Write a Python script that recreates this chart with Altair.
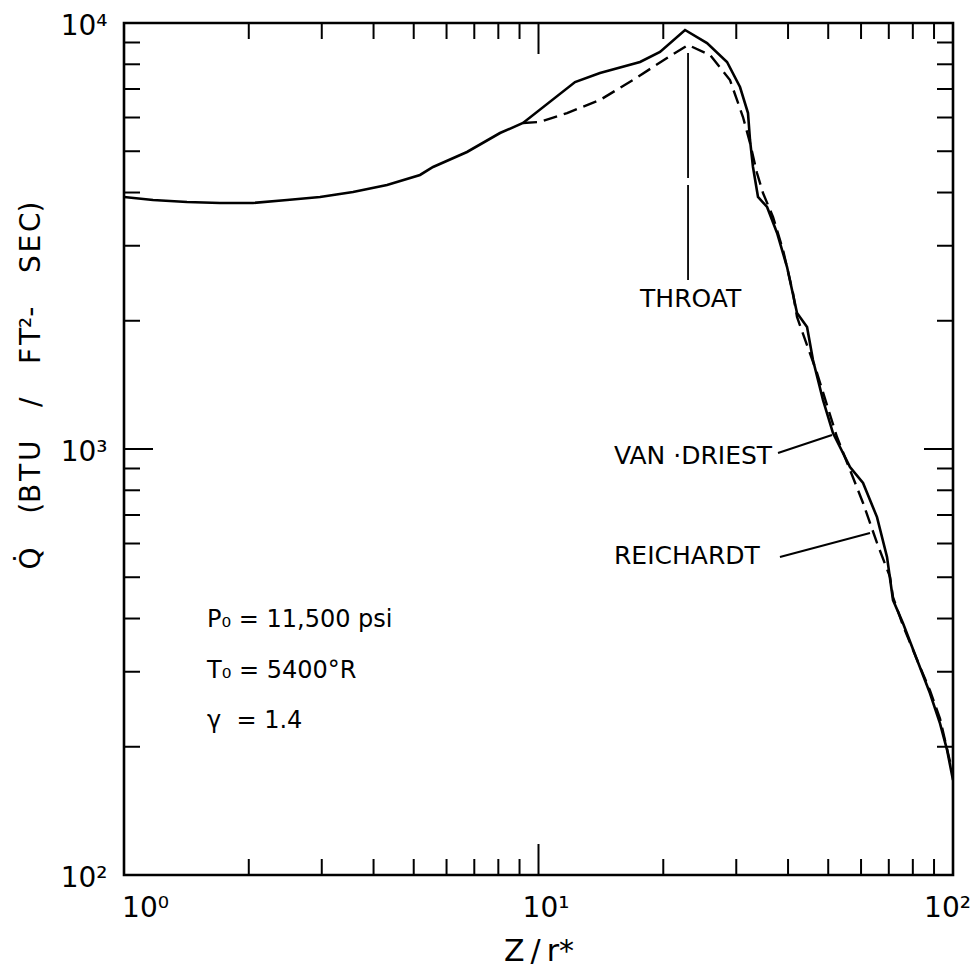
import altair as alt
import pandas as pd

# ---- data ----
# Van Driest (solid)
vd_x = [1.0, 1.175, 1.419, 1.704, 2.047, 2.474, 2.971, 3.568, 4.31, 5.178, 5.567, 6.722, 8.075, 9.176,
        12.25, 14.07, 17.58, 19.64, 22.57, 25.5, 28.5, 30.63, 32.02, 32.38, 32.92, 33.85, 35.6, 37.63,
        39.78, 42.04, 44.45, 45.94, 48.58, 51.34, 56.43, 60.67, 65.56, 69.31, 71.66, 75.75, 81.89,
        87.99, 93.03, 96.71, 100.0]
vd_y = [3905, 3842, 3800, 3780, 3780, 3842, 3905, 4012, 4166, 4398, 4592, 4980, 5517, 5825,
        7268, 7632, 8099, 8552, 9629, 8975, 8099, 7075, 6147, 5313, 4592, 3905, 3699, 3214,
        2674, 2085, 1933, 1618, 1303, 1090, 907, 832, 692, 558, 442, 390, 320,
        267, 227, 197, 167]
# Reichardt (dashed)
re_x = [9.176, 10.08, 11.72, 14.07, 16.9, 20.42, 22.95, 25.93, 28.97, 31.14, 32.38, 33.66, 34.8,
        36.79, 38.9, 41.11, 42.04, 46.97, 52.49, 56.43, 60.67, 65.56, 70.47, 71.66, 75.75, 81.89,
        87.99, 93.03, 100.0]
re_y = [5825, 5856, 6147, 6596, 7348, 8276, 8878, 8413, 7348, 6016, 5227, 4445, 3990,
        3505, 2932, 2323, 2041, 1508, 1067, 893, 747, 602, 501, 449, 385, 320,
        271, 233, 172]

x_major_labels = [1, 10, 100]
y_major_labels = [100, 1000, 10000]
x_minor_ticks = [2, 3, 4, 5, 6, 7, 8, 9, 20, 30, 40, 50, 60, 70, 80, 90]
x_major_ticks = [10]
y_minor_ticks = [200, 300, 400, 500, 600, 700, 800, 900, 2000, 3000, 4000, 5000, 6000, 7000, 8000, 9000]
y_major_ticks = [1000]

ann_labels = ["THROAT", "VAN\u00a0\u00b7DRIEST", "REICHARDT"]
ann_x = [17.58, 15.21, 15.21]
ann_y = [2249, 963, 561]

throat_x = [22.95, 22.95]
throat_y = [8506, 2493]
vd_lead_x = [37.83, 51.06]
vd_lead_y = [979, 1079]
re_lead_x = [38.24, 63.07]
re_lead_y = [558, 635]

param_labels = ["P\u2080 = 11,500 psi", "T\u2080 = 5400\u00b0R", "\u03b3\u00a0\u00a0= 1.4"]
param_x = [1.586, 1.586, 1.586]
param_y = [382, 290, 221]

W, H = 829, 852
FONT = "DejaVu Sans"

xs = alt.Scale(type="log", domain=[1, 100], nice=False)
ys = alt.Scale(type="log", domain=[100, 10000], nice=False)

GAP = "\u2003\u2009"
y_title = ("Q\u0307" + GAP + "(B\u200aT\u200aU" + GAP + "/" + GAP + "F\u200aT\u00b2-" + GAP
           + "S\u200aE\u200aC)")

x_axis = alt.Axis(values=x_major_labels, ticks=False, domain=False, grid=False, labelFlush=False,
                  labelExpr="'10' + (datum.value >= 100 ? '\u00b2' : datum.value >= 10 ? '\u00b9' : '\u2070')",
                  labelFont=FONT, labelFontSize=28, labelColor="black", labelPadding=19,
                  labelOffset={"condition": [{"test": "datum.value == 1", "value": 21},
                                             {"test": "datum.value == 100", "value": -6}], "value": 7},
                  title="Z\u2009/\u2009r*", titleFont=FONT, titleFontSize=30, titleFontWeight="normal",
                  titleColor="black", titlePadding=14)
y_axis = alt.Axis(values=y_major_labels, ticks=False, domain=False, grid=False,
                  labelExpr="'10' + (datum.value >= 10000 ? '\u2074' : datum.value >= 1000 ? '\u00b3' : '\u00b2')",
                  labelFont=FONT, labelFontSize=28, labelColor="black", labelPadding=17,
                  labelBaseline="middle", labelOffset=3,
                  title=y_title,
                  titleFont=FONT, titleFontSize=28, titleFontWeight="normal", titleColor="black",
                  titleX=-93, titleY=362, titleAngle=270, titleAlign="center", titleBaseline="middle")


def X():
    return alt.X("x:Q", scale=xs, axis=x_axis)


def Y():
    return alt.Y("y:Q", scale=ys, axis=y_axis)


vd = pd.DataFrame({"x": vd_x, "y": vd_y, "o": list(range(len(vd_x)))})
re = pd.DataFrame({"x": re_x, "y": re_y, "o": list(range(len(re_x)))})

solid = alt.Chart(vd).mark_line(color="black", strokeWidth=2.6, clip=True).encode(
    x=X(), y=Y(), order="o:Q")
dashed = alt.Chart(re).mark_line(color="black", strokeWidth=2.4, strokeDash=[14, 7], clip=True).encode(
    x=X(), y=Y(), order="o:Q")


def seg(xv, yv, dash=None, sw=2.0):
    df = pd.DataFrame({"x": xv, "y": yv})
    kw = dict(color="black", strokeWidth=sw)
    if dash:
        kw["strokeDash"] = dash
    return alt.Chart(df).mark_line(**kw).encode(x=X(), y=Y())


throat = seg(throat_x, throat_y, dash=[125, 7], sw=1.8)
vd_lead = seg(vd_lead_x, vd_lead_y)
re_lead = seg(re_lead_x, re_lead_y)

ann = alt.Chart(pd.DataFrame({"x": ann_x, "y": ann_y, "t": ann_labels})).mark_text(
    font=FONT, fontSize=25, align="left", baseline="middle", color="black").encode(
    x=X(), y=Y(), text="t:N")

params = alt.Chart(pd.DataFrame({"x": param_x, "y": param_y, "t": param_labels})).mark_text(
    font=FONT, fontSize=24, align="left", baseline="alphabetic", color="black").encode(
    x=X(), y=Y(), text="t:N")


def xticks(vals, length):
    df = pd.DataFrame({"x": vals})
    base = alt.Chart(df).mark_rule(color="black", strokeWidth=2)
    bot = base.encode(x=X(), y=alt.value(H), y2=alt.value(H - length))
    top = base.encode(x=X(), y=alt.value(0), y2=alt.value(length))
    return [bot, top]


def yticks(vals, length):
    df = pd.DataFrame({"y": vals})
    base = alt.Chart(df).mark_rule(color="black", strokeWidth=2)
    left = base.encode(y=Y(), x=alt.value(0), x2=alt.value(length))
    right = base.encode(y=Y(), x=alt.value(W), x2=alt.value(W - length))
    return [left, right]


layers = [solid, dashed, throat, vd_lead, re_lead, ann, params]
layers += xticks(x_minor_ticks, 16) + xticks(x_major_ticks, 31)
layers += yticks(y_minor_ticks, 16) + yticks(y_major_ticks, 29)

chart = alt.layer(*layers).properties(
    width=W, height=H,
    autosize=alt.AutoSizeParams(type="none"),
    padding={"left": 124, "top": 23, "right": 21, "bottom": 94},
    background="white",
).configure_view(stroke="black", strokeWidth=2.6)

chart.save("out.html", embed_options={"renderer": "svg", "actions": False})
